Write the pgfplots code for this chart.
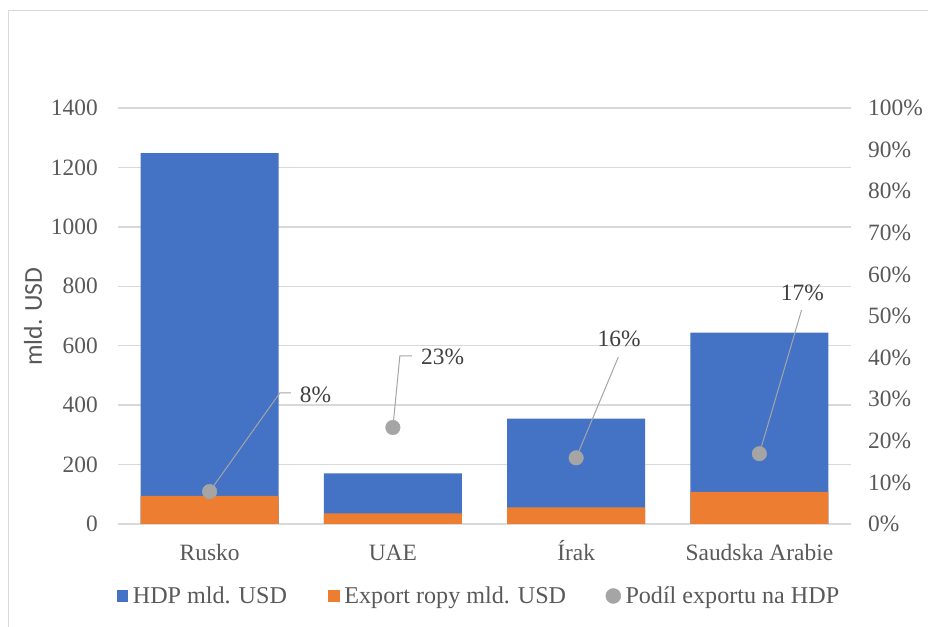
\documentclass[border=0pt]{standalone}
\usepackage{pgfplots}
\pgfplotsset{compat=1.18}
\usepackage{fontspec}
\setmainfont{Liberation Serif}
\newfontfamily\calibri{Carlito}
\definecolor{hdpblue}{HTML}{4472C4}
\definecolor{exporange}{HTML}{ED7D31}
\definecolor{dotgray}{HTML}{A5A5A5}
\definecolor{gridgray}{HTML}{D9D9D9}
\definecolor{ticktext}{HTML}{595959}
\definecolor{labeltext}{HTML}{404040}
\newcommand{\bigfont}{\fontsize{23.5}{28}\selectfont}
\newcommand{\legfont}{\fontsize{24.2}{29}\selectfont}

\begin{document}
\begin{tikzpicture}
\useasboundingbox (0,0) rectangle (928bp,627bp);
\fill[white] (0,0) rectangle (928bp,627bp);
\draw[gridgray, line width=1.5bp] (8.5bp,0) -- (8.5bp,616.5bp) -- (928bp,616.5bp);

\begin{axis}[
  at={(118bp,103bp)}, anchor=south west,
  scale only axis, width=733bp, height=416bp,
  xmin=-0.5, xmax=3.5, ymin=0, ymax=1400,
  enlarge x limits=false, enlarge y limits=false,
  xtick={0,1,2,3}, xticklabels={Rusko,UAE,Írak,Saudska Arabie},
  ytick={0,200,...,1400}, yticklabels={0,200,400,600,800,1000,1200,1400},
  ymajorgrids, grid style={gridgray, line width=1.5bp},
  axis line style={draw=none}, major tick length=0pt, tick style={draw=none},
  ticklabel style={font=\bigfont, text=ticktext, inner sep=0pt},
  xticklabel style={anchor=base}, xticklabel shift=36bp,
  yticklabel style={anchor=east}, yticklabel shift=20bp,
  ybar, bar width=138bp, bar shift=0pt,
  legend columns=3,
  legend style={at={(-0.0015,-0.173)}, anchor=west, draw=none, fill=none,
    inner sep=0pt, outer sep=0pt, font=\legfont, text=ticktext,
    nodes={inner sep=0pt},
    /tikz/every odd column/.append style={column sep=4.5bp},
    /tikz/column 2/.style={column sep=41.5bp},
    /tikz/column 4/.style={column sep=39.5bp}},
]
\addplot[fill=hdpblue, draw=none,
  legend image code/.code={\fill[hdpblue] (0bp,-5.75bp) rectangle (11.5bp,5.75bp);}]
  coordinates {(0,1248) (1,170) (2,355) (3,644)};
\addplot[fill=exporange, draw=none,
  legend image code/.code={\fill[exporange] (0bp,-5.75bp) rectangle (11.5bp,5.75bp);}]
  coordinates {(0,95) (1,36) (2,56) (3,108)};
\addlegendimage{legend image code/.code={\fill[dotgray] (7.5bp,0bp) circle (7.5bp);}}
\legend{HDP mld. USD, Export ropy mld. USD, Podíl exportu na HDP}
\end{axis}

\begin{axis}[
  at={(118bp,103bp)}, anchor=south west,
  scale only axis, width=733bp, height=416bp,
  xmin=-0.5, xmax=3.5, ymin=0, ymax=100,
  enlarge x limits=false, enlarge y limits=false,
  axis x line=none, axis y line*=right,
  axis line style={draw=none}, major tick length=0pt, tick style={draw=none},
  ytick={0,10,...,100},
  yticklabels={0\%,10\%,20\%,30\%,40\%,50\%,60\%,70\%,80\%,90\%,100\%},
  ticklabel style={font=\bigfont, text=ticktext, inner sep=0pt},
  yticklabel style={anchor=west}, yticklabel shift=17bp,
]
\draw[dotgray, line width=1bp] (axis cs:0,7.8) -- (axis cs:0.383,31.5) -- (axis cs:0.443,31.5);
\draw[dotgray, line width=1bp] (axis cs:1,23.2) -- (axis cs:1.038,40.4) -- (axis cs:1.104,40.4);
\draw[dotgray, line width=1bp] (axis cs:2,15.9) -- (axis cs:2.230,40.1);
\draw[dotgray, line width=1bp] (axis cs:3,16.9) -- (axis cs:3.230,51.4);
\addplot[only marks, mark=*, mark size=7.3bp, color=dotgray, mark options={draw=dotgray, fill=dotgray}]
  coordinates {(0,7.8) (1,23.2) (2,15.9) (3,16.9)};
\node[anchor=west, inner sep=0pt, font=\bigfont, text=labeltext] at (axis cs:0.492,31.0) {8\%};
\node[anchor=west, inner sep=0pt, font=\bigfont, text=labeltext] at (axis cs:1.153,40.1) {23\%};
\node[anchor=center, inner sep=0pt, font=\bigfont, text=labeltext] at (axis cs:2.235,44.5) {16\%};
\node[anchor=center, inner sep=0pt, font=\bigfont, text=labeltext] at (axis cs:3.235,55.5) {17\%};
\end{axis}

\node[rotate=90, font=\calibri\fontsize{25.8}{30}\selectfont, text=ticktext] at (33bp,310.5bp) {mld. USD};
\end{tikzpicture}
\end{document}
